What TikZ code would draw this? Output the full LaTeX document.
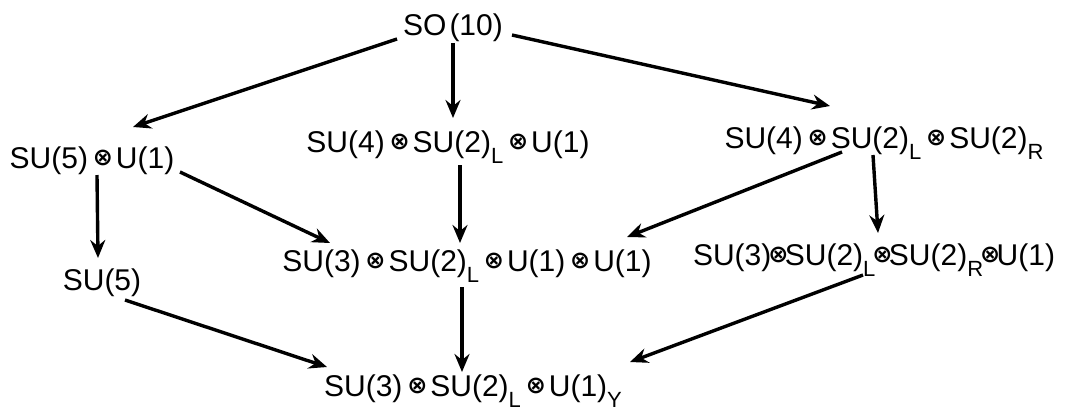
\documentclass[tikz,border=0pt]{standalone}
\usepackage{fontspec}
\setmainfont{Liberation Sans}
\newfontfamily\symf{DejaVu Sans}
\usetikzlibrary{arrows.meta,calc}
\newcommand{\oxg}{\raisebox{0.1em}{\fontsize{12}{12}\selectfont\symf\bfseries ⊗}}
\newcommand{\ox}{\hspace{0.16em}\oxg\hspace{0.1em}}
\newcommand{\oxt}{\hspace{-0.1em}\oxg\hspace{-0.12em}}
\newcommand{\lw}[1]{\raisebox{-0.38em}{\fontsize{11}{11}\selectfont #1}}
\tikzset{
  grp/.style={anchor=base, inner sep=0pt, font=\fontsize{15}{18}\selectfont},
  arr/.style={line width=1.7pt, -{Stealth[length=9pt,width=7.5pt,inset=3pt]}}
}
\begin{document}
\begin{tikzpicture}[x=0.5pt,y=-0.5pt]
\useasboundingbox (0,0) rectangle (1071,414);
\node[grp] (so) at (453,35) {SO\hspace{0.1em}(10)};
\node[grp] (a) at (92,168) {SU(5)\ox U(1)};
\node[grp] (b) at (448,152) {SU(4)\ox SU(2)\lw{L}\ox U(1)};
\node[grp] (c) at (884,148) {SU(4)\ox SU(2)\lw{L}\ox SU(2)\lw{R}};
\node[grp] (d) at (102,290) {SU(5)};
\node[grp] (e) at (467,271) {SU(3)\ox SU(2)\lw{L}\ox U(1)\ox U(1)};
\node[grp] (f) at (874,265) {SU(3)\oxt SU(2)\lw{L}\oxt SU(2)\lw{R}\oxt U(1)};
\node[grp] (g) at (473,396) {SU(3)\ox SU(2)\lw{L}\ox U(1)\lw{Y}};
\draw[arr] ($(so.base)+(-56,4)$) -- ($(a.base)+(41,-41)$);
\draw[arr] ($(so.base)+(0,8)$) -- ($(b.base)+(5,-34)$);
\draw[arr] ($(so.base)+(59,0)$) -- ($(c.base)+(-54,-42)$);
\draw[arr] ($(a.base)+(5,7)$) -- ($(d.base)+(-4,-32)$);
\draw[arr] ($(a.base)+(88,4)$) -- ($(e.base)+(-137,-28)$);
\draw[arr] ($(b.base)+(12,13)$) -- ($(e.base)+(-7,-28)$);
\draw[arr] ($(c.base)+(-42,4)$) -- ($(e.base)+(160,-34)$);
\draw[arr] ($(c.base)+(-11,7)$) -- ($(f.base)+(4,-32)$);
\draw[arr] ($(e.base)+(-5,16)$) -- ($(g.base)+(-11,-24)$);
\draw[arr] ($(d.base)+(23,10)$) -- ($(g.base)+(-146,-29)$);
\draw[arr] ($(f.base)+(-11,10)$) -- ($(g.base)+(157,-34)$);
\end{tikzpicture}
\end{document}
